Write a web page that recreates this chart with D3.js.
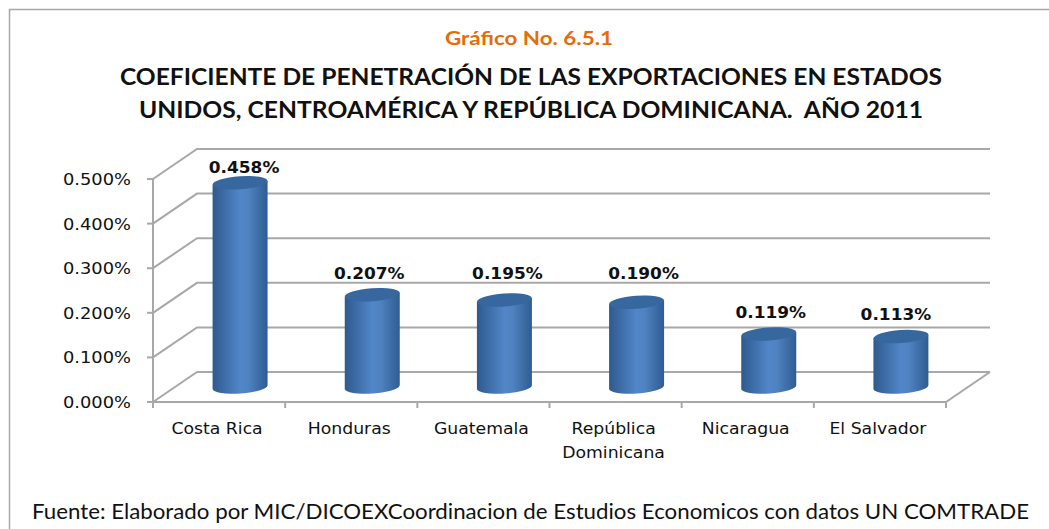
<!DOCTYPE html>
<html>
<head>
<meta charset="utf-8">
<script src="https://cdn.jsdelivr.net/npm/d3@7"></script>
<style>
  body { margin: 0; background: #fff; overflow: hidden; }
  svg { display: block; }
  text { fill: #111; }
</style>
</head>
<body>
<div id="chart"></div>
<script>
const categories = ["Costa Rica", "Honduras", "Guatemala", "República|Dominicana", "Nicaragua", "El Salvador"]
const values = [0.458, 0.207, 0.195, 0.190, 0.119, 0.113]
const yTicks = [0, 0.1, 0.2, 0.3, 0.4, 0.5]
const titleLines = ["COEFICIENTE DE PENETRACIÓN DE LAS EXPORTACIONES EN ESTADOS", "UNIDOS, CENTROAMÉRICA Y REPÚBLICA DOMINICANA.  AÑO 2011"]
const chartNumber = "Gráfico No. 6.5.1"
const source = "Fuente: Elaborado por MIC/DICOEXCoordinacion de Estudios Economicos con datos UN COMTRADE"

// hand placed label shifts, excel moves these around a bit
const labelDx = [0, -7, -1, 3, -2, -9]
const labelDy = [3, -3, -8, -10, -3, -4]

let width = 1049,
  height = 529

// 3d depth of the walls
let depthX = 44,
  depthY = 30

let x = d3.scaleBand()
  .domain(categories)
  .range([153, 946])

let y = d3.scaleLinear()
  .domain([0, 0.5])
  .range([402, 179])

let svg = d3.select("#chart").append("svg")
  .attr("width", width)
  .attr("height", height)

let grad = svg.append("defs").append("linearGradient")
  .attr("id", "cyl")
grad.append("stop").attr("offset", "0%").attr("stop-color", "#2e5a8e")
grad.append("stop").attr("offset", "50%").attr("stop-color", "#5186c8")
grad.append("stop").attr("offset", "65%").attr("stop-color", "#4f82c0")
grad.append("stop").attr("offset", "100%").attr("stop-color", "#2f5c92")

// the source image is stretched sideways, so text gets stretched as well
function stretch(sel, k) {
  sel.each(function () {
    d3.select(this)
      .attr("textLength", this.getComputedTextLength() * k)
      .attr("lengthAdjust", "spacingAndGlyphs")
  })
}

// outer frame, runs off the right and bottom of the picture
svg.append("rect")
  .attr("x", 9.5).attr("y", 9.5)
  .attr("width", 1100).attr("height", 600)
  .attr("fill", "none")
  .attr("stroke", "#a6a6a6")
  .attr("stroke-width", 1.5)

svg.append("text")
  .attr("x", 529).attr("y", 45)
  .attr("text-anchor", "middle")
  .attr("textLength", 168)
  .attr("lengthAdjust", "spacingAndGlyphs")
  .style("font", "bold 18.5px Lato")
  .style("fill", "#e46c0a")
  .text(chartNumber)

svg.selectAll(".title")
  .data(titleLines)
  .enter().append("text")
  .attr("class", "title")
  .attr("x", 531)
  .attr("y", function (d, i) { return 85 + i * 33 })
  .attr("text-anchor", "middle")
  .attr("textLength", function (d, i) { return i == 0 ? 822 : 784 })
  .attr("lengthAdjust", "spacingAndGlyphs")
  .style("font", "bold 22.5px Lato")
  .style("white-space", "pre")
  .text(function (d) { return d })

// walls and gridlines
let grid = svg.append("g")
  .attr("fill", "none")
  .attr("stroke", "#a8a8a8")
  .attr("stroke-width", 2)

let x0 = x.range()[0],
  x1 = x.range()[1]

grid.selectAll("path")
  .data(yTicks)
  .enter().append("path")
  .attr("d", function (d) {
    return "M" + x0 + "," + y(d) + "L" + (x0 + depthX) + "," + (y(d) - depthY) + "H" + (x1 + depthX)
  })

grid.append("path").attr("d", "M" + x0 + "," + y(0.5) + "V" + y(0) + "H" + x1 + "L" + (x1 + depthX) + "," + (y(0) - depthY))

// tick marks
grid.selectAll(".ytick")
  .data(yTicks)
  .enter().append("line")
  .attr("class", "ytick")
  .attr("x1", x0 - 6).attr("x2", x0)
  .attr("y1", function (d) { return y(d) })
  .attr("y2", function (d) { return y(d) })

grid.selectAll(".xtick")
  .data(d3.range(categories.length + 1))
  .enter().append("line")
  .attr("class", "xtick")
  .attr("x1", function (d) { return x0 + d * x.bandwidth() })
  .attr("x2", function (d) { return x0 + d * x.bandwidth() })
  .attr("y1", y(0))
  .attr("y2", y(0) + 6)

svg.selectAll(".ylabel")
  .data(yTicks)
  .enter().append("text")
  .attr("class", "ylabel")
  .attr("x", 131)
  .attr("y", function (d) { return y(d) + 6 })
  .attr("text-anchor", "end")
  .style("font", "15px 'DejaVu Sans'")
  .text(function (d) { return d3.format(".3f")(d) + "%" })
  .call(stretch, 1.19)

// cylinders
let barW = 55,
  ry = 6.5,
  baseShift = 15

let bars = svg.selectAll(".bar")
  .data(values)
  .enter().append("g")
  .attr("class", "bar")
  .attr("transform", function (d, i) { return "translate(" + (x(categories[i]) + x.bandwidth() / 2 + depthX / 2 - 1) + ",0)" })

bars.append("path")
  .attr("fill", "url(#cyl)")
  .attr("d", function (d) {
    let b = y(0) - baseShift,
      t = y(d) - baseShift,
      r = barW / 2
    return "M" + (-r) + "," + (t + 2) + "V" + (b + 2) +
      "A" + r + "," + ry + " -4 0 0 " + r + "," + (b - 2) +
      "V" + (t - 2) + "Z"
  })

bars.append("ellipse")
  .attr("rx", barW / 2)
  .attr("ry", ry)
  .attr("fill", "#36679f")
  .attr("transform", function (d) { return "translate(0," + (y(d) - baseShift) + ") rotate(-4)" })

bars.append("text")
  .attr("x", function (d, i) { return 4 + labelDx[i] })
  .attr("y", function (d, i) { return y(d) - baseShift - 13 + labelDy[i] })
  .attr("text-anchor", "middle")
  .style("font", "bold 15px 'DejaVu Sans'")
  .text(function (d) { return d3.format(".3f")(d) + "%" })
  .call(stretch, 1.13)

// category labels, one text per line since textLength wants a whole text
let catLines = categories.flatMap(function (c) {
  return c.split("|").map(function (s, i) { return { s: s, c: c, i: i } })
})

svg.selectAll(".cat")
  .data(catLines)
  .enter().append("text")
  .attr("class", "cat")
  .attr("text-anchor", "middle")
  .style("font", "15px 'DejaVu Sans'")
  .attr("x", function (d) { return x(d.c) + x.bandwidth() / 2 - 2 })
  .attr("y", function (d) { return 434 + d.i * 24 })
  .text(function (d) { return d.s })
  .call(stretch, 1.15)

svg.append("text")
  .attr("x", 32).attr("y", 519)
  .attr("textLength", 997)
  .attr("lengthAdjust", "spacingAndGlyphs")
  .style("font", "21px Lato")
  .text(source)
</script>
</body>
</html>
